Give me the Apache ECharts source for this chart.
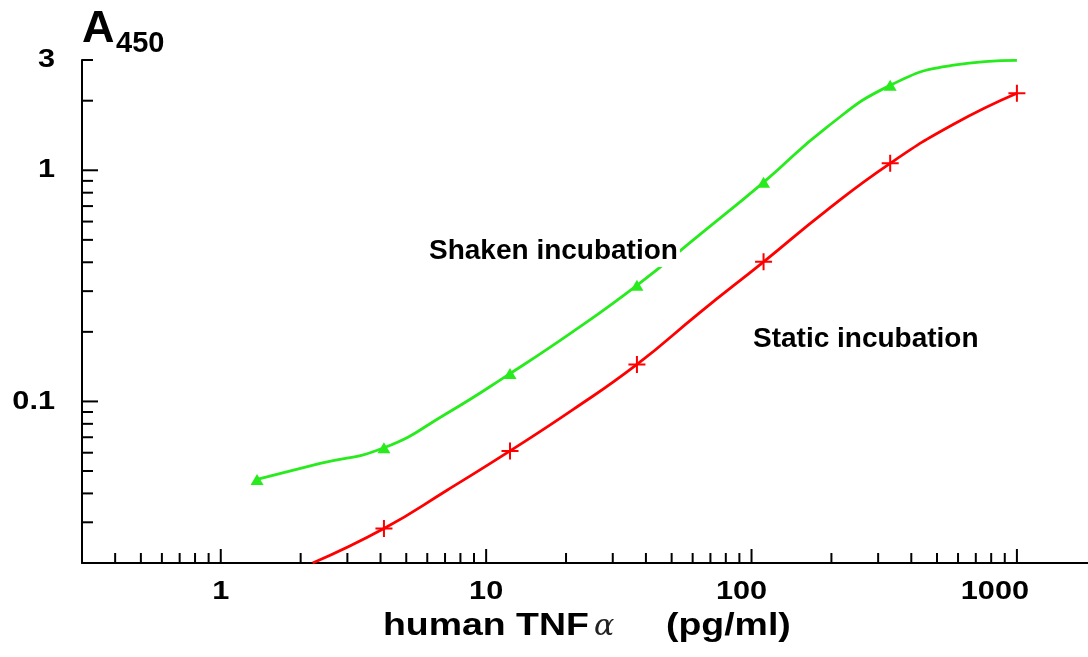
<!DOCTYPE html>
<html>
<head>
<meta charset="utf-8">
<script src="https://cdn.jsdelivr.net/npm/echarts@6/dist/echarts.min.js"></script>
<style>
  html, body { margin: 0; padding: 0; background: #fff; }
  #chart { width: 1088px; height: 657px; }
</style>
</head>
<body>
<div id="chart"></div>
<script>
// axis ranges (log10 axes)
const X_MIN = 0.3, X_MAX = 1853
const Y_MIN = 0.02, Y_MAX = 3

// measured points
const shakenDoses = [1.37, 4.12, 12.3, 37, 111, 333]
const shakenA450 = [0.046, 0.063, 0.132, 0.318, 0.887, 2.33]
const staticDoses = [4.12, 12.3, 37, 111, 333, 1000]
const staticA450 = [0.0282, 0.0611, 0.1446, 0.4016, 1.072, 2.154]

// fitted curves
const shakenFitX = [1.37, 2.37, 4.12, 7.1, 12.3, 21.3, 37, 64, 111, 192, 333, 577, 1000]
const shakenFitY = [0.046, 0.0539, 0.063, 0.0887, 0.132, 0.201, 0.318, 0.528, 0.887, 1.535, 2.33, 2.848, 2.99]
const staticFitX = [2.22, 4.12, 7.1, 12.3, 21.3, 37, 64, 111, 192, 333, 577, 1000]
const staticFitY = [0.02, 0.0282, 0.0412, 0.0611, 0.0924, 0.1446, 0.243, 0.4016, 0.671, 1.072, 1.582, 2.154]

// ticks and labels
const xMajorTicks = [1, 10, 100, 1000]
const xMinorTicks = [0.4, 0.5, 0.6, 0.7, 0.8, 0.9, 2, 3, 4, 5, 6, 7, 8, 9, 20, 30, 40, 50, 60, 70, 80, 90, 200, 300, 400, 500, 600, 700, 800, 900]
const yMajorTicks = [0.1, 1]
const yMinorTicks = [0.03, 0.04, 0.05, 0.06, 0.07, 0.08, 0.09, 0.2, 0.3, 0.4, 0.5, 0.6, 0.7, 0.8, 0.9, 2, 3]
const xLabelValues = [1, 10, 100, 1000]
const xTickLabels = ['1', '10', '100', '1000']
const yLabelValues = [0.1, 1, 3]
const yTickLabels = ['0.1', '1', '3']

// the long x labels sit a little left of their tick in the original
const xLabelShift = [0, 0, -10, -22]

const GREEN = '#28eb1e'
const RED = '#ff0000'
const FONT = '"Liberation Sans", Arial, sans-serif'

function pairs(xs, ys) {
    return xs.map((x, i) => [x, ys[i]])
}

function xTick(len) {
    return function (params, api) {
        const p = api.coord([api.value(0), api.value(1)])
        return {
            type: 'line',
            shape: { x1: p[0], y1: p[1], x2: p[0], y2: p[1] - len },
            style: { stroke: '#000', lineWidth: 2 }
        }
    }
}
function yTick(len) {
    return function (params, api) {
        const p = api.coord([api.value(0), api.value(1)])
        return {
            type: 'line',
            shape: { x1: p[0], y1: p[1], x2: p[0] + len, y2: p[1] },
            style: { stroke: '#000', lineWidth: 2 }
        }
    }
}

const chart = echarts.init(document.getElementById('chart'))
chart.setOption({
    animation: false,
    backgroundColor: '#fff',
    grid: { left: 82, right: 0, top: 60, bottom: 94 },
    xAxis: {
        type: 'log', logBase: 10, min: X_MIN, max: X_MAX,
        axisLine: { show: true, lineStyle: { color: '#000', width: 2 } },
        axisTick: { show: false }, axisLabel: { show: false },
        splitLine: { show: false }
    },
    yAxis: {
        type: 'log', logBase: 10, min: Y_MIN, max: Y_MAX,
        axisLine: { show: true, lineStyle: { color: '#000', width: 2 } },
        axisTick: { show: false }, axisLabel: { show: false },
        splitLine: { show: false }
    },
    graphic: [
        { type: 'text', x: 82, y: 30, style: { text: 'A', font: 'bold 45px ' + FONT, fill: '#000', align: 'left', verticalAlign: 'middle' } },
        { type: 'text', x: 116, y: 44, style: { text: '450', font: 'bold 29px ' + FONT, fill: '#000', align: 'left', verticalAlign: 'middle' } },
        { type: 'text', x: 383, y: 626, scaleX: 1.17, style: { text: 'human TNF', font: 'bold 32px ' + FONT, fill: '#000', align: 'left', verticalAlign: 'middle' } },
        { type: 'text', x: 594, y: 627, style: { text: 'α', font: 'italic 30px "DejaVu Serif", serif', fill: '#222', align: 'left', verticalAlign: 'middle' } },
        { type: 'text', x: 666, y: 626, scaleX: 1.17, style: { text: '(pg/ml)', font: 'bold 32px ' + FONT, fill: '#000', align: 'left', verticalAlign: 'middle' } },
        { type: 'text', x: 427, y: 251, z: 10, style: { text: 'Shaken incubation', font: 'bold 28px ' + FONT, fill: '#000', align: 'left', verticalAlign: 'middle', backgroundColor: '#fff', padding: [2, 2] } },
        { type: 'text', x: 753, y: 339, z: 10, style: { text: 'Static incubation', font: 'bold 28px ' + FONT, fill: '#000', align: 'left', verticalAlign: 'middle' } }
    ],
    series: [
        {
            name: 'Shaken fit', type: 'line', data: pairs(shakenFitX, shakenFitY),
            smooth: 0.5, showSymbol: false, symbol: 'none',
            lineStyle: { color: GREEN, width: 2.8 }, z: 2
        },
        {
            name: 'Static fit', type: 'line', data: pairs(staticFitX, staticFitY),
            smooth: 0.5, showSymbol: false, symbol: 'none',
            lineStyle: { color: RED, width: 2.8 }, z: 2
        },
        {
            name: 'Shaken incubation', type: 'scatter', data: pairs(shakenDoses, shakenA450),
            symbol: 'triangle', symbolSize: [13, 11],
            itemStyle: { color: GREEN, opacity: 1 }, z: 3
        },
        {
            name: 'Static incubation', type: 'scatter', data: pairs(staticDoses, staticA450),
            symbol: 'path://M5,0L5,10M0,5L10,5', symbolSize: 17,
            itemStyle: { color: 'none', borderColor: RED, borderWidth: 2, opacity: 1 }, z: 3
        },
        // ticks drawn inward
        { type: 'custom', data: xMajorTicks.map(v => [v, Y_MIN]), renderItem: xTick(14), silent: true, z: 4 },
        { type: 'custom', data: xMinorTicks.map(v => [v, Y_MIN]), renderItem: xTick(10), silent: true, z: 4 },
        { type: 'custom', data: yMajorTicks.map(v => [X_MIN, v]), renderItem: yTick(16), silent: true, z: 4 },
        { type: 'custom', data: yMinorTicks.map(v => [X_MIN, v]), renderItem: yTick(11), silent: true, z: 4 },
        // tick labels
        {
            type: 'custom', silent: true, z: 4,
            data: xLabelValues.map(v => [v, Y_MIN]),
            renderItem: function (params, api) {
                const p = api.coord([api.value(0), api.value(1)])
                return {
                    type: 'text', x: p[0] + xLabelShift[params.dataIndex], y: p[1] + 29, scaleX: 1.18,
                    style: { text: xTickLabels[params.dataIndex], font: 'bold 26px ' + FONT, fill: '#000', align: 'center', verticalAlign: 'middle' }
                }
            }
        },
        {
            type: 'custom', silent: true, z: 4,
            data: yLabelValues.map(v => [X_MIN, v]),
            renderItem: function (params, api) {
                const p = api.coord([api.value(0), api.value(1)])
                return {
                    type: 'text', x: p[0] - 27, y: p[1], scaleX: 1.18,
                    style: { text: yTickLabels[params.dataIndex], font: 'bold 26px ' + FONT, fill: '#000', align: 'right', verticalAlign: 'middle' }
                }
            }
        }
    ]
})
</script>
</body>
</html>
